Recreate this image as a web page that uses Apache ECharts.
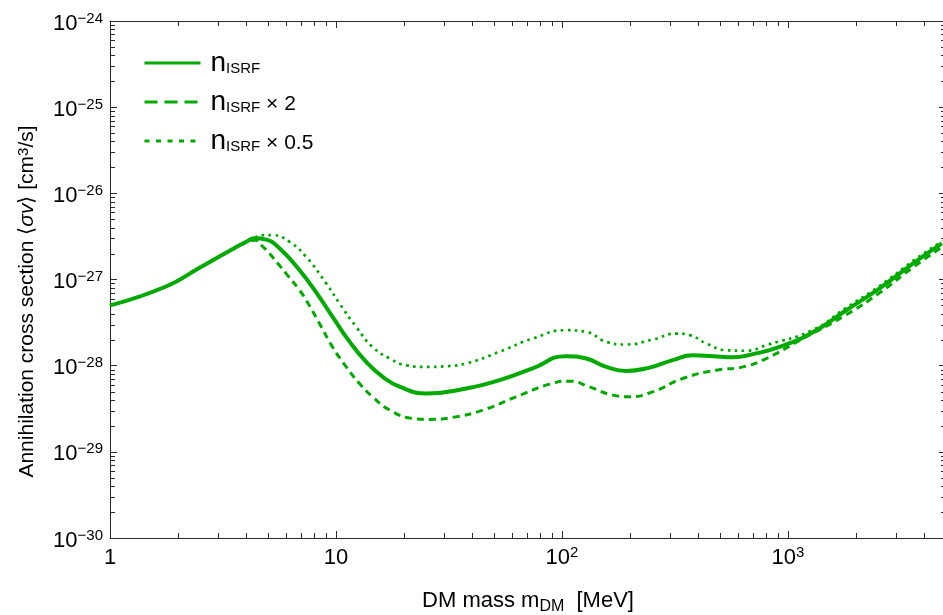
<!DOCTYPE html>
<html><head><meta charset="utf-8">
<script src="https://cdn.jsdelivr.net/npm/echarts@6/dist/echarts.min.js"></script>
<style>html,body{margin:0;padding:0;background:#fff}#c{width:943px;height:615px}</style>
</head><body><div id="c"></div>
<script>
const GREEN = '#00aa00';
const FONT = '"Liberation Sans", Arial, sans-serif';

// n_ISRF (solid)
const massSolid  = [1.0, 1.77, 2.49, 3.48, 4.01, 4.36, 4.91, 5.62, 6.90, 8.17, 9.66, 11.5, 13.6, 16.1, 19.1, 25.1, 37.7, 52.9, 74.1, 104, 128, 157, 192, 244, 309, 379, 465, 570, 699, 917, 1288, 1809, 2541, 3565, 4795];
const sigmaSolid = [5.0e-28, 8.3e-28, 1.37e-27, 2.25e-27, 2.74e-27, 3.01e-27, 2.9e-27, 2.3e-27, 1.28e-27, 7.1e-28, 3.68e-28, 1.89e-28, 1.11e-28, 7.4e-29, 5.7e-29, 4.76e-29, 5.44e-29, 6.8e-29, 9.3e-29, 1.29e-28, 1.21e-28, 9.7e-29, 8.7e-29, 9.5e-29, 1.16e-28, 1.32e-28, 1.29e-28, 1.25e-28, 1.36e-28, 1.65e-28, 2.45e-28, 4.4e-28, 7.9e-28, 1.53e-27, 2.62e-27];

// n_ISRF x 2 (dashed)
const massDouble  = [1.0, 1.77, 2.49, 3.48, 4.01, 4.4, 4.67, 5.08, 5.53, 6.02, 6.90, 7.38, 8.45, 9.65, 11.1, 12.7, 14.5, 17.3, 21.8, 25.9, 32.9, 44.7, 62.7, 88.1, 108, 132, 168, 199, 252, 342, 481, 631, 801, 1119, 1809, 2541, 3565, 4795];
const sigmaDouble = [5.0e-28, 8.3e-28, 1.37e-27, 2.25e-27, 2.7e-27, 2.85e-27, 2.5e-27, 2.0e-27, 1.53e-27, 1.17e-27, 7.5e-28, 5.75e-28, 3.09e-28, 1.65e-28, 9.7e-29, 6.2e-29, 4.35e-29, 3.05e-29, 2.44e-29, 2.38e-29, 2.51e-29, 3.05e-29, 4.35e-29, 6.1e-29, 6.61e-29, 5.68e-29, 4.55e-29, 4.35e-29, 4.97e-29, 7.1e-29, 8.87e-29, 9.68e-29, 1.21e-28, 1.95e-28, 3.9e-28, 7.0e-28, 1.38e-27, 2.38e-27];

// n_ISRF x 0.5 (dotted)
const massHalf  = [1.0, 1.77, 2.49, 3.48, 4.01, 4.36, 4.59, 5.24, 6.23, 7.38, 9.05, 10.36, 12.28, 14.5, 17.3, 20.5, 25.1, 30.7, 37.7, 52.9, 74.3, 104, 128, 157, 192, 252, 320, 367, 435, 533, 653, 801, 1288, 1809, 2541, 3565, 4795];
const sigmaHalf = [5.0e-28, 8.3e-28, 1.37e-27, 2.25e-27, 2.74e-27, 3.01e-27, 3.27e-27, 3.27e-27, 2.73e-27, 1.83e-27, 9.0e-28, 5.27e-28, 2.82e-28, 1.65e-28, 1.21e-28, 1.01e-28, 9.68e-29, 9.86e-29, 1.06e-28, 1.45e-28, 2.07e-28, 2.58e-28, 2.47e-28, 1.89e-28, 1.76e-28, 2.01e-28, 2.36e-28, 2.26e-28, 1.81e-28, 1.51e-28, 1.49e-28, 1.73e-28, 2.6e-28, 4.7e-28, 8.4e-28, 1.63e-27, 2.78e-27];

const seriesNames = ['nISRF', 'nISRF × 2', 'nISRF × 0.5'];

// axis ranges and ticks
const xMin = 1, xMax = 5000;
const yMin = 1e-30, yMax = 1e-24;
// a hair below 1e-30 so the log scale keeps 10^-30 as a regular (labelled) tick
const yAxisMin = yMin * (1 - 1e-12);
const xTickValues = [1, 10, 100, 1000];
const xTickLabels = ['{b|1}', '{b|10}', '{b|10}{s|2}', '{b|10}{s|3}'];
const yTickExponents = [-30, -29, -28, -27, -26, -25, -24];
const xMinorTicks = [2,3,4,5,6,7,8,9, 20,30,40,50,60,70,80,90, 200,300,400,500,600,700,800,900, 2000,3000,4000];
const yMinorTicks = [
  2e-30,3e-30,4e-30,5e-30,6e-30,7e-30,8e-30,9e-30,
  2e-29,3e-29,4e-29,5e-29,6e-29,7e-29,8e-29,9e-29,
  2e-28,3e-28,4e-28,5e-28,6e-28,7e-28,8e-28,9e-28,
  2e-27,3e-27,4e-27,5e-27,6e-27,7e-27,8e-27,9e-27,
  2e-26,3e-26,4e-26,5e-26,6e-26,7e-26,8e-26,9e-26,
  2e-25,3e-25,4e-25,5e-25,6e-25,7e-25,8e-25,9e-25
];

function pairs(xs, ys) { return xs.map((x, i) => [x, ys[i]]); }

const AXIS_COLOR = '#2a2a2a';
const labelRich = {
  b: { fontSize: 22, lineHeight: 22, padding: [5, 0, 0, 0], fontFamily: FONT, color: '#000' },
  s: { fontSize: 15, lineHeight: 15, verticalAlign: 'top', padding: [1, 0, 0, 0], fontFamily: FONT, color: '#000' }
};

function xLabel(v) {
  const l = Math.log10(v); const e = Math.round(l);
  if (!isFinite(l) || Math.abs(l - e) > 1e-6) return '';
  const i = xTickValues.indexOf(Math.pow(10, e));
  return i >= 0 ? xTickLabels[i] : '';
}
function yLabel(v) {
  const l = Math.log10(v); const e = Math.round(l);
  if (!isFinite(l) || Math.abs(l - e) > 1e-6) return '';
  if (yTickExponents.indexOf(e) < 0) return '';
  return '{b|10}{s|\u2212' + (-e) + '}';
}

const chart = echarts.init(document.getElementById('c'), null, { renderer: 'canvas' });

const minorLen = 5;
function minorX(params, api) {
  const cs = params.coordSys;
  const p = api.coord([api.value(0), yMin]);
  const bottom = cs.y + cs.height, top = cs.y;
  const st = { stroke: AXIS_COLOR, lineWidth: 1 };
  const x = Math.round(p[0]) + 0.5;
  return { type: 'group', children: [
    { type: 'line', shape: { x1: x, y1: bottom, x2: x, y2: bottom - minorLen }, style: st },
    { type: 'line', shape: { x1: x, y1: top, x2: x, y2: top + minorLen }, style: st }
  ]};
}
function minorY(params, api) {
  const cs = params.coordSys;
  const p = api.coord([xMin, api.value(1)]);
  const left = cs.x, right = cs.x + cs.width;
  const st = { stroke: AXIS_COLOR, lineWidth: 1 };
  const y = Math.round(p[1]) + 0.5;
  return { type: 'group', children: [
    { type: 'line', shape: { x1: left, y1: y, x2: left + minorLen, y2: y }, style: st },
    { type: 'line', shape: { x1: right, y1: y, x2: right - minorLen, y2: y }, style: st }
  ]};
}

function baseAxis() { return {
  axisLine: { show: true, onZero: false, lineStyle: { color: AXIS_COLOR, width: 1 } },
  axisTick: { show: true, inside: true, length: 7, lineStyle: { color: AXIS_COLOR, width: 1 } },
  splitLine: { show: false },
  minorTick: { show: false }
};}

const option = {
  animation: false,
  backgroundColor: '#fff',
  textStyle: { fontFamily: FONT },
  grid: { left: 110, top: 21, width: 836, height: 517, containLabel: false, outerBoundsMode: 'none' },
  legend: {
    orient: 'vertical', left: 138, top: 44,
    itemWidth: 56, itemHeight: 14, itemGap: 11,
    selectedMode: false,
    itemStyle: { opacity: 0 },
    data: [
      { name: seriesNames[0], lineStyle: { width: 3, type: 'solid', color: GREEN }, itemStyle: { opacity: 0 } },
      { name: seriesNames[1], lineStyle: { width: 3, type: [13, 7], color: GREEN }, itemStyle: { opacity: 0 } },
      { name: seriesNames[2], lineStyle: { width: 3, type: [5, 6.5], color: GREEN }, itemStyle: { opacity: 0 } }
    ],
    formatter: function (name) {
      if (name === seriesNames[0]) return '{n|n}{sub|ISRF}';
      if (name === seriesNames[1]) return '{n|n}{sub|ISRF}{t| × 2}';
      return '{n|n}{sub|ISRF}{t| × 0.5}';
    },
    textStyle: {
      color: '#000',
      rich: {
        n: { fontSize: 28, lineHeight: 28, padding: [0, 0, 0, 5], fontFamily: FONT, color: '#000' },
        sub: { fontSize: 15, lineHeight: 15, padding: [12, 0, 0, 0], fontFamily: FONT, color: '#000' },
        t: { fontSize: 21, lineHeight: 21, padding: [4, 0, 0, 0], fontFamily: FONT, color: '#000' }
      }
    }
  },
  xAxis: [
    Object.assign(baseAxis(), {
      type: 'log', logBase: 10, min: xMin, max: xMax, position: 'bottom',
      axisLabel: { formatter: xLabel, margin: 6, rich: labelRich, showMinLabel: true, showMaxLabel: true },
      name: '{t|DM mass m}{d|DM}{t|  [MeV]}',
      nameLocation: 'middle', nameGap: 52, nameMoveOverlap: false,
      nameTextStyle: {
        rich: {
          t: { fontSize: 22, lineHeight: 22, fontFamily: FONT, color: '#000' },
          d: { fontSize: 16, lineHeight: 16, padding: [11, 0, 0, 0], fontFamily: FONT, color: '#000' }
        }
      }
    }),
    Object.assign(baseAxis(), {
      type: 'log', logBase: 10, min: xMin, max: xMax, position: 'top',
      axisLabel: { show: false }
    })
  ],
  yAxis: [
    Object.assign(baseAxis(), {
      type: 'log', logBase: 10, min: yAxisMin, max: yMax, position: 'left',
      axisLabel: { formatter: yLabel, margin: 7, rich: labelRich, showMinLabel: true, showMaxLabel: true },
      name: '{t|Annihilation cross section \u27E8}{i|\u03C3v}{t|\u27E9 [cm}{p|3}{t|/s]}',
      nameLocation: 'middle', nameGap: 72, nameRotate: 90, nameMoveOverlap: false,
      nameTextStyle: {
        padding: [0, 44, 0, 0],
        rich: {
          t: { fontSize: 21, lineHeight: 21, fontFamily: FONT, color: '#000' },
          i: { fontSize: 21, lineHeight: 21, fontStyle: 'italic', fontFamily: FONT, color: '#000' },
          p: { fontSize: 15, lineHeight: 15, padding: [0, 0, 7, 0], fontFamily: FONT, color: '#000' }
        }
      }
    }),
    Object.assign(baseAxis(), {
      type: 'log', logBase: 10, min: yAxisMin, max: yMax, position: 'right',
      axisLabel: { show: false }
    })
  ],
  series: [
    {
      name: seriesNames[1], type: 'line', xAxisIndex: 0, yAxisIndex: 0,
      data: pairs(massDouble, sigmaDouble), smooth: 0.5, symbol: 'none', silent: true,
      lineStyle: { color: GREEN, width: 3, type: [7, 5], cap: 'butt' }, itemStyle: { color: GREEN }
    },
    {
      name: seriesNames[2], type: 'line', xAxisIndex: 0, yAxisIndex: 0,
      data: pairs(massHalf, sigmaHalf), smooth: 0.5, symbol: 'none', silent: true,
      lineStyle: { color: GREEN, width: 2.7, type: [2.7, 4.3], cap: 'butt' }, itemStyle: { color: GREEN }
    },
    {
      name: seriesNames[0], type: 'line', xAxisIndex: 0, yAxisIndex: 0,
      data: pairs(massSolid, sigmaSolid), smooth: 0.5, symbol: 'none', silent: true,
      lineStyle: { color: GREEN, width: 4 }, itemStyle: { color: GREEN }
    },
    {
      type: 'custom', xAxisIndex: 0, yAxisIndex: 0, silent: true, clip: false,
      data: xMinorTicks.map(v => [v, yMin]), renderItem: minorX
    },
    {
      type: 'custom', xAxisIndex: 0, yAxisIndex: 0, silent: true, clip: false,
      data: yMinorTicks.map(v => [xMin, v]), renderItem: minorY
    }
  ]
};
chart.setOption(option);
</script>
</body></html>
